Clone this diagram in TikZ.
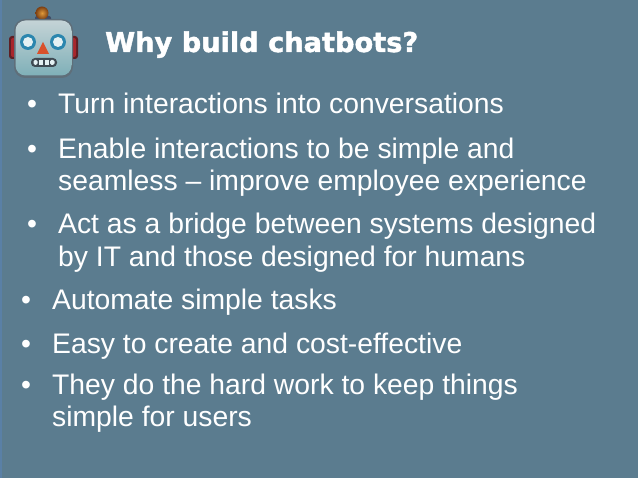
\documentclass[tikz,border=0pt]{standalone}
\usepackage{fontspec}
\setmainfont{Liberation Sans}
\newfontfamily\titlefont[BoldFeatures={FakeBold=1.6}]{DejaVu Sans}
\definecolor{slide}{HTML}{5B7C8F}
\definecolor{edge}{HTML}{5A80A6}
\definecolor{earD}{HTML}{5E1F24}
\definecolor{earL}{HTML}{A8262C}
\definecolor{headT}{HTML}{C4D3D6}
\definecolor{headB}{HTML}{7FB0B8}
\definecolor{headE}{HTML}{5F6F7A}
\definecolor{eyeR}{HTML}{2B86AE}
\definecolor{eyeW}{HTML}{E4F1F3}
\definecolor{noseC}{HTML}{D9512B}
\definecolor{mouthC}{HTML}{3F4A52}
\definecolor{capC}{HTML}{3E4A66}
\definecolor{beaconD}{HTML}{7A3E12}
\definecolor{beaconL}{HTML}{E09A3A}
\tikzset{
  txt/.style={anchor=base west,inner sep=0pt,text=white,font=\fontsize{28.3}{28.3}\selectfont},
  ttl/.style={anchor=base west,inner sep=0pt,text=white,font=\titlefont\bfseries\fontsize{27.2}{27.2}\selectfont},
}
\begin{document}
\begin{tikzpicture}[x=1pt,y=-1pt]
\useasboundingbox (0,0) rectangle (638,478);
\fill[slide] (0,0) rectangle (638,478);
\fill[edge] (0,0) rectangle (1.5,478);
% robot emoji
\fill[capC,rounded corners=2pt] (35,16) rectangle (51,24);
\shade[inner color=beaconL,outer color=beaconD] (42,13) circle (6.5);
\fill[earD,rounded corners=3pt] (9,36) rectangle (18,59);
\fill[earD,rounded corners=3pt] (69,36) rectangle (78,59);
\fill[earL,rounded corners=2pt] (11,38) rectangle (16,57);
\fill[earL,rounded corners=2pt] (71,38) rectangle (76,57);
\fill[headE,rounded corners=11pt] (14,19) rectangle (73,78);
\shade[top color=headT,bottom color=headB,rounded corners=10pt] (15.5,20.5) rectangle (71.5,75.5);
\fill[eyeR] (28,42) circle (8);
\fill[eyeW] (28,42) circle (5);
\fill[eyeR] (58,42) circle (8);
\fill[eyeW] (58,42) circle (5);
\fill[noseC] (43,42) -- (49,54) -- (37,54) -- cycle;
\fill[mouthC,rounded corners=4pt] (31,58) rectangle (57,67);
\fill[eyeW,rounded corners=1.5pt] (33.5,60) rectangle (37.5,65);
\fill[eyeW] (39,60) rectangle (43,65);
\fill[eyeW] (44.5,60) rectangle (48.5,65);
\fill[eyeW,rounded corners=1.5pt] (50,60) rectangle (54.5,65);
% title
\node[ttl] (title) at (105,52) {Why build chatbots?};
% bullets
\node[txt] (b1) at (27,114) {•};
\node[txt] (t1) at (58,114) {Turn interactions into conversations};
\node[txt] (b2) at (27,159) {•};
\node[txt] (t2a) at (58,159) {Enable interactions to be simple and};
\node[txt] (t2b) at (58,191) {seamless – improve employee experience};
\node[txt] (b3) at (27,234) {•};
\node[txt] (t3a) at (58,234) {Act as a bridge between systems designed};
\node[txt] (t3b) at (58,267) {by IT and those designed for humans};
\node[txt] (b4) at (21,310) {•};
\node[txt] (t4) at (52,310) {Automate simple tasks};
\node[txt] (b5) at (21,354) {•};
\node[txt] (t5) at (52,354) {Easy to create and cost-effective};
\node[txt] (b6) at (21,395) {•};
\node[txt] (t6a) at (52,395) {They do the hard work to keep things};
\node[txt] (t6b) at (52,427) {simple for users};
\end{tikzpicture}
\end{document}
